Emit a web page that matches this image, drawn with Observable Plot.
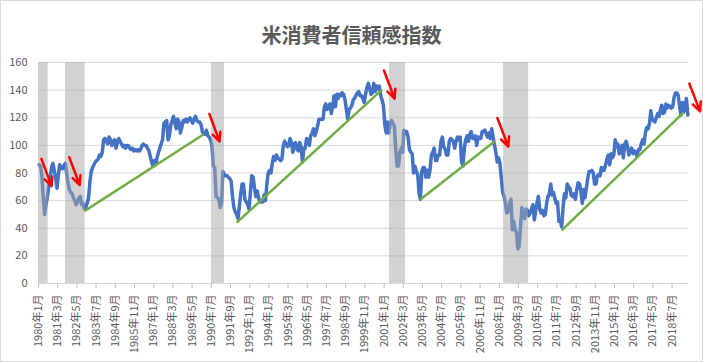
<!DOCTYPE html>
<html><head><meta charset="utf-8">
<script src="https://cdn.jsdelivr.net/npm/d3@7"></script>
<script src="https://cdn.jsdelivr.net/npm/@observablehq/plot@0.6"></script>
<style>
body{margin:0;background:#fff}
#chart svg{display:block;outline:1px solid #d9d9d9;outline-offset:-1px}
</style>
</head><body><div id="chart"></div>
<script>
const title = "米消費者信頼感指数";

// Monthly values, 1980-01 .. 2019-06 (one row per year)
const cci1980s = [
  86, 85, 78, 62, 50, 57, 63, 70, 76, 84, 87, 82,
  76, 69, 78, 86, 84, 83, 85, 87, 80, 73, 68, 66,
  65, 62, 60, 57, 59, 62, 63, 57, 58, 54, 55, 58,
  62, 74, 81, 84, 86, 88, 89, 90, 93, 92, 95, 104,
  105, 103, 101, 106, 104, 100, 103, 104, 98, 102, 105, 103,
  101, 99, 100, 98, 100, 100, 98, 97, 98, 96, 97, 96,
  97, 96, 97, 100, 101, 100, 100, 98, 96, 92, 88, 85,
  89, 86, 91, 95, 98, 101, 104, 116, 117, 118, 104, 107,
  115, 118, 121, 116, 112, 119, 117, 109, 113, 118, 117, 119,
  117, 119, 120, 118, 116, 119, 121, 118, 117, 117, 115, 110
];
const cci1990s = [
  108, 108, 111, 107, 106, 104, 100, 85, 84, 63, 62, 61,
  55, 59, 81, 79, 78, 78, 77, 76, 74, 63, 55, 52,
  50, 47, 56, 65, 72, 72, 61, 59, 57, 54, 66, 78,
  77, 69, 63, 67, 62, 59, 59, 59, 64, 60, 72, 80,
  82, 80, 87, 92, 89, 93, 91, 90, 89, 90, 100, 103,
  101, 99, 100, 105, 102, 95, 101, 102, 97, 96, 102, 99,
  88, 98, 98, 105, 104, 100, 107, 109, 112, 107, 110, 114,
  119, 119, 119, 119, 128, 130, 126, 128, 130, 123, 128, 136,
  128, 137, 134, 137, 136, 138, 137, 133, 126, 119, 126, 127,
  129, 133, 134, 136, 138, 139, 136, 136, 134, 131, 137, 142
];
const cci2000s = [
  145, 141, 137, 138, 145, 139, 143, 141, 143, 136, 133, 129,
  115, 109, 117, 109, 116, 118, 116, 114, 97, 85, 85, 95,
  98, 95, 111, 109, 110, 106, 97, 95, 94, 80, 85, 81,
  79, 65, 61, 81, 84, 84, 77, 82, 77, 82, 93, 95,
  98, 89, 89, 93, 93, 103, 106, 99, 97, 93, 93, 103,
  105, 104, 103, 98, 103, 106, 104, 106, 88, 85, 98, 104,
  107, 103, 108, 110, 105, 105, 107, 100, 106, 105, 105, 110,
  110, 111, 108, 106, 109, 105, 112, 106, 100, 95, 88, 91,
  87, 76, 66, 63, 58, 51, 52, 58, 61, 39, 45, 39,
  37, 25, 27, 41, 55, 49, 47, 54, 53, 49, 51, 54
];
const cci2010s = [
  57, 46, 52, 58, 63, 54, 51, 53, 49, 50, 58, 63,
  65, 72, 64, 66, 62, 58, 59, 45, 46, 41, 55, 65,
  62, 72, 70, 69, 64, 63, 65, 61, 68, 73, 72, 67,
  58, 68, 62, 69, 76, 81, 81, 82, 80, 72, 72, 78,
  79, 78, 84, 82, 82, 86, 90, 93, 86, 94, 91, 93,
  104, 99, 101, 94, 95, 100, 91, 101, 103, 99, 93, 96,
  98, 94, 96, 95, 92, 97, 97, 101, 104, 101, 109, 113,
  112, 116, 125, 119, 118, 117, 120, 123, 121, 126, 129, 123,
  124, 130, 127, 129, 128, 127, 128, 135, 138, 138, 136, 128,
  122, 131, 124, 129, 134, 122
];

const tickLabels = [
  "1980年1月","1981年3月","1982年5月","1983年7月","1984年9月","1985年11月",
  "1987年1月","1988年3月","1989年5月","1990年7月","1991年9月","1992年11月",
  "1994年1月","1995年3月","1996年5月","1997年7月","1998年9月","1999年11月",
  "2001年1月","2002年3月","2003年5月","2004年7月","2005年9月","2006年11月",
  "2008年1月","2009年3月","2010年5月","2011年7月","2012年9月","2013年11月",
  "2015年1月","2016年3月","2017年5月","2018年7月"
];
const yTicks = [0, 20, 40, 60, 80, 100, 120, 140, 160];

// Recession shading (start, end)
const recessionStart = ["1980-01-01", "1981-08-21", "1990-07-06", "2001-05-01", "2008-04-06"];
const recessionEnd   = ["1980-08-03", "1982-11-02", "1991-04-21", "2002-04-21", "2009-10-12"];

// Green trend lines (month, value)
const trendStart = ["1982-10", "1992-01", "2003-03", "2011-10"];
const trendStartValue = [52.4, 44.1, 60.8, 38.5];
const trendEnd = ["1990-01", "2000-11", "2007-09", "2019-03"];
const trendEndValue = [108.1, 140.4, 102.8, 123.9];

// Red arrows (date, value)
const arrowFrom = ["1980-03-07", "1981-11-13", "1990-05-22", "2000-12-28", "2007-11-19", "2019-07-19"];
const arrowFromValue = [90.2, 91.4, 122.7, 154.2, 119.8, 144.7];
const arrowTo = ["1980-10-16", "1982-07-04", "1991-01-01", "2001-08-22", "2008-07-19", "2020-03-13"];
const arrowToValue = [70.5, 71.3, 102.8, 133.8, 99.1, 124.6];

// ---- build tables ----
const values = [...cci1980s, ...cci1990s, ...cci2000s, ...cci2010s];
const series = values.map((v, i) => ({date: new Date(Date.UTC(1980, i, 16)), value: v}));
const monthMid = s => { const [y, m] = s.split("-").map(Number); return new Date(Date.UTC(y, m - 1, 16)); };
const day = s => new Date(s + "T00:00:00Z");
const tickDates = tickLabels.map(s => { const m = s.match(/(\d+)年(\d+)月/); return new Date(Date.UTC(+m[1], +m[2] - 1, 1)); });
const labelMap = new Map(tickDates.map((d, i) => [+d, tickLabels[i]]));
const bands = recessionStart.map((s, i) => ({x1: day(s), x2: day(recessionEnd[i])}));
const trends = trendStart.map((s, i) => ({x1: monthMid(s), y1: trendStartValue[i], x2: monthMid(trendEnd[i]), y2: trendEndValue[i]}));
const arrows = arrowFrom.map((s, i) => ({x1: day(s), y1: arrowFromValue[i], x2: day(arrowTo[i]), y2: arrowToValue[i]}));

const chart = Plot.plot({
  width: 703, height: 362,
  marginLeft: 38, marginRight: 15, marginTop: 62, marginBottom: 79,
  style: {fontFamily: "'Noto Sans CJK JP', sans-serif", fontSize: "11px", color: "#595959", background: "#fff", overflow: "visible"},
  x: {type: "utc", domain: [new Date(Date.UTC(1980, 0, 1)), new Date(Date.UTC(2019, 6, 1))], axis: null},
  y: {domain: [0, 160], axis: null},
  marks: [
    Plot.ruleY(yTicks, {stroke: "#d9d9d9", strokeWidth: 1}),
    Plot.axisY({ticks: yTicks, tickSize: 0, tickPadding: 11, fill: "#595959", fontSize: 11}),
    Plot.axisX({ticks: tickDates, tickFormat: d => labelMap.get(+d), tickRotate: -90, tickSize: 5, tickPadding: 6, stroke: "#bfbfbf", fill: "#595959", fontSize: 11}),
    Plot.lineY(series, {x: "date", y: "value", stroke: "#4472c4", strokeWidth: 3.5, strokeLinejoin: "round", strokeLinecap: "round"}),
    Plot.link(trends, {x1: "x1", y1: "y1", x2: "x2", y2: "y2", stroke: "#70ad47", strokeWidth: 2.5}),
    Plot.rect(bands, {x1: "x1", x2: "x2", y1: 0, y2: 160, fill: "#a6a6a6", fillOpacity: 0.5}),
    Plot.arrow(arrows, {x1: "x1", y1: "y1", x2: "x2", y2: "y2", stroke: "#ff0000", strokeWidth: 2.5, headLength: 9, headAngle: 50}),
    Plot.text([title], {text: d => d, frameAnchor: "top", dy: -34, dx: -12, fontSize: 20, fontWeight: "bold", fill: "#595959"})
  ]
});
document.getElementById("chart").appendChild(chart);
</script>
</body></html>
